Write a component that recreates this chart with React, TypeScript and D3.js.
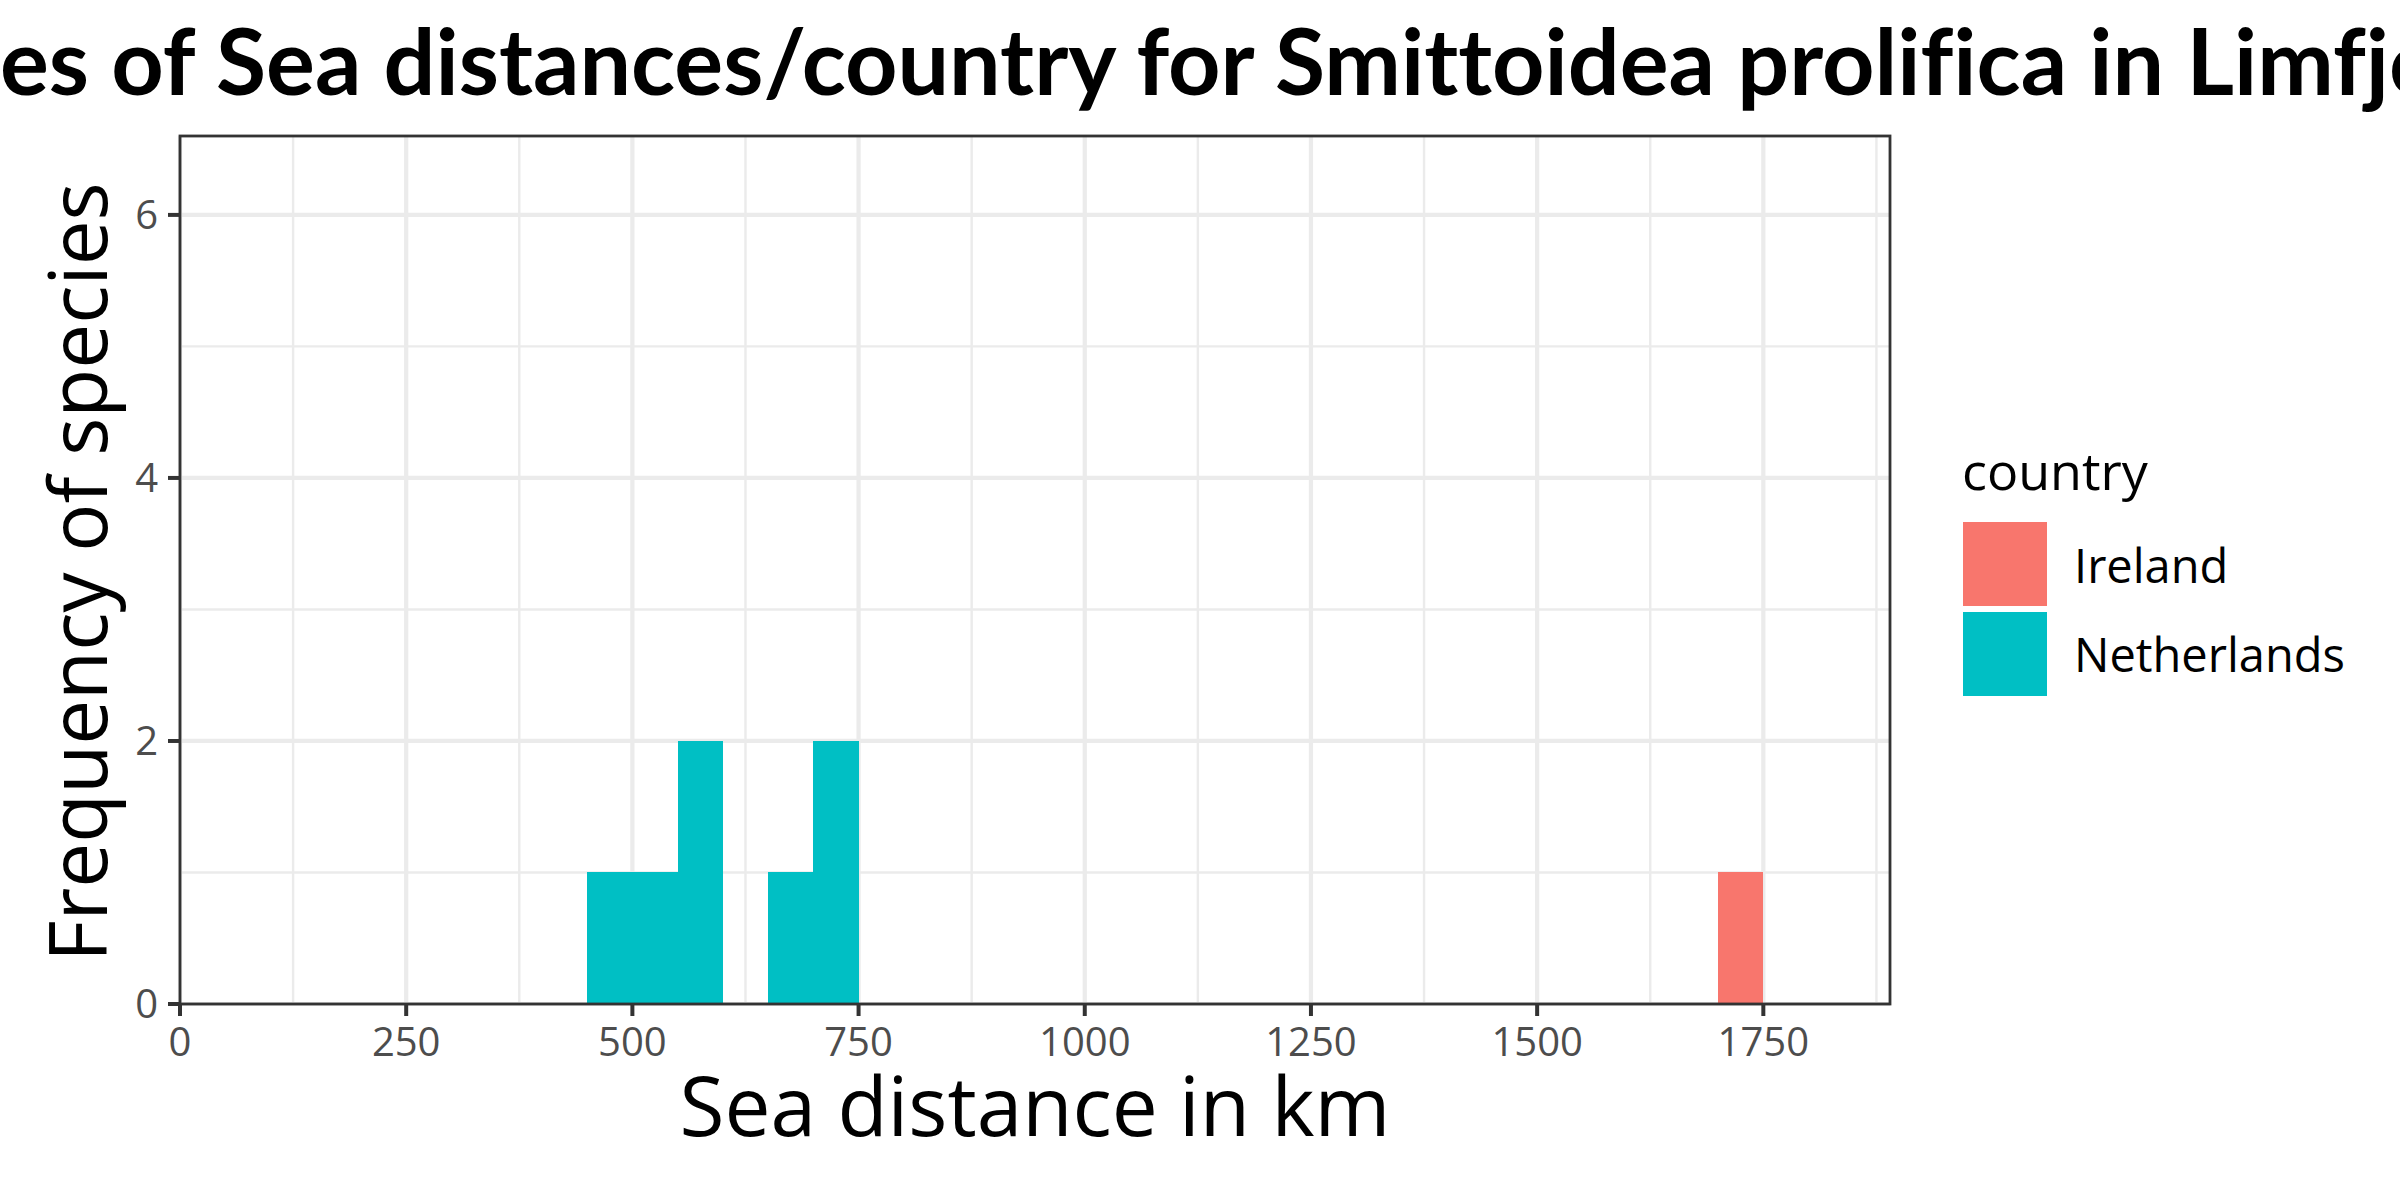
import React, { useLayoutEffect, useRef, useState } from "react";
import * as d3 from "d3";

const titleText = "Frequencies of Sea distances/country for Smittoidea prolifica in Limfjorden";
const hiddenPrefix = "Frequenci";
const xLabel = "Sea distance in km";
const yLabel = "Frequency of species";
const legendTitle = "country";

const countries = ["Ireland", "Netherlands"];
const countryColors = ["#F8766D", "#00BFC4"];

const binStarts = [450, 500, 550, 650, 700, 1700];
const binCounts = [1, 1, 2, 1, 2, 1];
const binCountry = ["Netherlands", "Netherlands", "Netherlands", "Netherlands", "Netherlands", "Ireland"];
const binWidth = 50;

const xTicks = [0, 250, 500, 750, 1000, 1250, 1500, 1750];
const xMinor = [125, 375, 625, 875, 1125, 1375, 1625, 1875];
const yTicks = [0, 2, 4, 6];
const yMinor = [1, 3, 5];

const W = 2400;
const H = 1200;
const PL = 180, PR = 1890, PT = 136, PB = 1004;
const FONT = "'Open Sans', 'Noto Sans', sans-serif";
const TITLE_FONT = "Lato, 'Open Sans', sans-serif";

export default function App() {
  const x = d3.scaleLinear().domain([0, 1890]).range([PL, PR]);
  const y = d3.scaleLinear().domain([0, 6.6]).range([PB, PT]);
  const color = d3.scaleOrdinal<string, string>().domain(countries).range(countryColors);

  const titleRef = useRef<SVGTextElement>(null);
  const [titleX, setTitleX] = useState(-400);
  useLayoutEffect(() => {
    const el = titleRef.current;
    if (el) {
      try {
        const w = el.getSubStringLength(0, hiddenPrefix.length);
        setTitleX(-w);
      } catch (e) {}
    }
  }, []);

  const gridColor = "#EBEBEB";
  const tickColor = "#333333";
  const labColor = "#4D4D4D";

  return (
    <svg width={W} height={H} style={{ position: "fixed", left: 0, top: 0, background: "#fff" }} fontFamily={FONT}>
      <rect x={0} y={0} width={W} height={H} fill="#fff" />
      {/* minor grid */}
      {xMinor.map((v) => (
        <line key={"xm" + v} x1={x(v)} x2={x(v)} y1={PT} y2={PB} stroke={gridColor} strokeWidth={2.4} />
      ))}
      {yMinor.map((v) => (
        <line key={"ym" + v} x1={PL} x2={PR} y1={y(v)} y2={y(v)} stroke={gridColor} strokeWidth={2.4} />
      ))}
      {/* major grid */}
      {xTicks.map((v) => (
        <line key={"xg" + v} x1={x(v)} x2={x(v)} y1={PT} y2={PB} stroke={gridColor} strokeWidth={4.2} />
      ))}
      {yTicks.map((v) => (
        <line key={"yg" + v} x1={PL} x2={PR} y1={y(v)} y2={y(v)} stroke={gridColor} strokeWidth={4.2} />
      ))}
      {/* bars */}
      <g shapeRendering="crispEdges">
        {binStarts.map((s, i) => (
          <rect
            key={"b" + i}
            x={Math.round(x(s))}
            width={Math.round(x(s + binWidth)) - Math.round(x(s))}
            y={Math.round(y(binCounts[i]))}
            height={Math.round(y(0)) - Math.round(y(binCounts[i]))}
            fill={color(binCountry[i])}
          />
        ))}
      </g>
      {/* panel border */}
      <rect x={PL} y={PT} width={PR - PL} height={PB - PT} fill="none" stroke={tickColor} strokeWidth={2.8} />
      {/* x ticks */}
      {xTicks.map((v) => (
        <g key={"xt" + v}>
          <line x1={x(v)} x2={x(v)} y1={PB} y2={PB + 12} stroke={tickColor} strokeWidth={4} />
          <text x={x(v)} y={1056} textAnchor="middle" fontSize={40} fill={labColor}>
            {v}
          </text>
        </g>
      ))}
      {/* y ticks */}
      {yTicks.map((v) => (
        <g key={"yt" + v}>
          <line x1={PL - 12} x2={PL} y1={y(v)} y2={y(v)} stroke={tickColor} strokeWidth={4} />
          <text x={158} y={y(v) + 14} textAnchor="end" fontSize={40} fill={labColor}>
            {v}
          </text>
        </g>
      ))}
      {/* axis titles */}
      <text x={(PL + PR) / 2} y={1136} textAnchor="middle" fontSize={82} fill="#000">
        {xLabel}
      </text>
      <text
        transform={`translate(107, ${(PT + PB) / 2 + 2}) rotate(-90)`}
        textAnchor="middle"
        fontSize={80}
        fill="#000"
      >
        {yLabel}
      </text>
      {/* title */}
      <text
        ref={titleRef}
        x={titleX}
        y={95}
        fontSize={91.5}
        fontWeight="bold"
        fill="#000"
        fontFamily={TITLE_FONT}
        style={{ fontVariantLigatures: "none", fontFeatureSettings: "'liga' 0, 'clig' 0" }}
      >
        {titleText}
      </text>
      {/* legend */}
      <text x={1962} y={490} fontSize={52} fill="#000">
        {legendTitle}
      </text>
      {countries.map((c, i) => (
        <g key={"lg" + c}>
          <rect x={1963} y={522 + i * 90} width={84} height={84} fill={color(c)} />
          <text x={2074} y={582.7 + i * 89.5} fontSize={47} fill="#000">
            {c}
          </text>
        </g>
      ))}
    </svg>
  );
}
